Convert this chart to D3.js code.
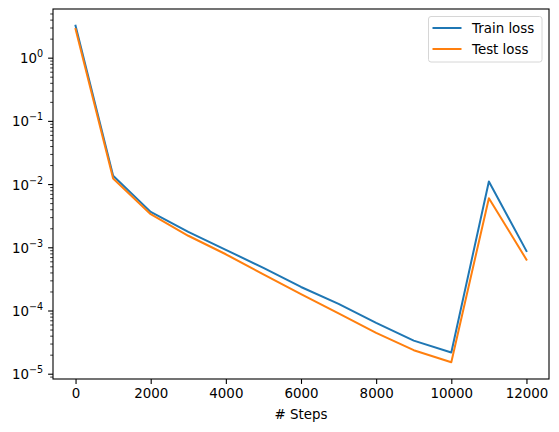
<!DOCTYPE html>
<html>
<head>
<meta charset="utf-8">
<script src="https://cdn.jsdelivr.net/npm/d3@7"></script>
<style>
  body { margin: 0; background: #fff; }
  svg { font-family: "DejaVu Sans", sans-serif; }
</style>
</head>
<body>
<div id="root"></div>
<script>
// loss values, one per 1000 steps
var steps = [0, 1000, 2000, 3000, 4000, 5000, 6000, 7000, 8000, 9000, 10000, 11000, 12000];
var trainLoss = [3.25, 0.0138, 0.0037, 0.00178, 0.00093, 0.00048, 0.00024, 0.00013, 0.000065, 0.000034, 0.000022, 0.0112, 0.00089];
var testLoss = [2.9, 0.0125, 0.0034, 0.00155, 0.00079, 0.00038, 0.000185, 0.000092, 0.000045, 0.000024, 0.0000155, 0.0061, 0.00065];
var xTicks = [0, 2000, 4000, 6000, 8000, 10000, 12000];
var yExps = [0, -1, -2, -3, -4, -5];
var seriesNames = ['Train loss', 'Test loss'];

var w = 559, h = 432;
// plot box (note: "top" is taken by window.top, so prefixed names)
var pLeft = 53, pRight = 549, pTop = 9, pBottom = 379;
var fs = 13.4;
var colors = ['#1f77b4', '#ff7f0e'];

var svg = d3.select('#root').append('svg')
  .attr('width', w)
  .attr('height', h);

// 5% margins like matplotlib, in log space for y
var allVals = trainLoss.concat(testLoss);
var lmin = Math.log10(d3.min(allVals)), lmax = Math.log10(d3.max(allVals));
var pad = (lmax - lmin) * 0.05;
var xpad = (d3.max(steps) - d3.min(steps)) * 0.05;

var xScale = d3.scaleLinear()
  .domain([d3.min(steps) - xpad, d3.max(steps) + xpad])
  .range([pLeft, pRight]);

var yScale = d3.scaleLog()
  .domain([Math.pow(10, lmin - pad), Math.pow(10, lmax + pad)])
  .range([pBottom, pTop]);

var plot = svg.append('g');

// lines
var line = d3.line()
  .x(function(d) { return xScale(d[0]); })
  .y(function(d) { return yScale(d[1]); });

[trainLoss, testLoss].forEach(function(series, k) {
  plot.append('path')
    .datum(steps.map(function(s, i) { return [s, series[i]]; }))
    .attr('fill', 'none')
    .attr('stroke', colors[k])
    .attr('stroke-width', 2)
    .attr('stroke-linejoin', 'round')
    .attr('stroke-linecap', 'square')
    .attr('d', line);
});

// x axis
var xAxis = d3.axisBottom(xScale)
  .tickValues(xTicks)
  .tickSize(4.9)
  .tickPadding(4.9)
  .tickFormat(d3.format('d'));

var gx = svg.append('g')
  .attr('transform', 'translate(0,' + pBottom + ')')
  .call(xAxis);
gx.select('.domain').remove();
gx.selectAll('line').attr('stroke', '#000').attr('stroke-width', 1.1);
gx.selectAll('text').attr('font-size', fs).attr('fill', '#000')
  .attr('font-family', '"DejaVu Sans", sans-serif');

// y axis minor ticks
var dom = yScale.domain();
var minors = [];
for (var e = Math.floor(Math.log10(dom[0])); e <= Math.ceil(Math.log10(dom[1])); e++) {
  for (var m = 2; m <= 9; m++) {
    var v = m * Math.pow(10, e);
    if (v >= dom[0] && v <= dom[1]) minors.push(v);
  }
}
svg.selectAll('line.minor')
  .data(minors).enter().append('line')
  .attr('class', 'minor')
  .attr('x1', pLeft - 2.8).attr('x2', pLeft)
  .attr('y1', function(d) { return yScale(d); })
  .attr('y2', function(d) { return yScale(d); })
  .attr('stroke', '#000').attr('stroke-width', 0.8);

// y axis major ticks + labels
var yt = svg.selectAll('g.ytick')
  .data(yExps).enter().append('g')
  .attr('class', 'ytick')
  .attr('transform', function(d) { return 'translate(0,' + yScale(Math.pow(10, d)) + ')'; });

yt.append('line')
  .attr('x1', pLeft - 4.9).attr('x2', pLeft)
  .attr('stroke', '#000').attr('stroke-width', 1.1);

var lbl = yt.append('text')
  .attr('x', pLeft - 9.8)
  .attr('y', 5)
  .attr('text-anchor', 'end')
  .attr('font-size', fs)
  .attr('fill', '#000');
lbl.append('tspan').text('10');
lbl.append('tspan')
  .attr('dy', -6)
  .attr('font-size', 9.6)
  .text(function(d) { return d < 0 ? '\u2212' + (-d) : String(d); });

// frame
svg.append('rect')
  .attr('x', pLeft).attr('y', pTop)
  .attr('width', pRight - pLeft).attr('height', pBottom - pTop)
  .attr('fill', 'none')
  .attr('stroke', '#000')
  .attr('stroke-width', 1.1);

// x label
svg.append('text')
  .attr('x', (pLeft + pRight) / 2)
  .attr('y', 419)
  .attr('text-anchor', 'middle')
  .attr('font-size', fs)
  .attr('fill', '#000')
  .text('# Steps');

// legend
var legend = svg.append('g')
  .attr('transform', 'translate(428.5,16.5)');

legend.append('rect')
  .attr('width', 113.5)
  .attr('height', 45.5)
  .attr('rx', 2.5).attr('ry', 2.5)
  .attr('fill', '#fff')
  .attr('fill-opacity', 0.8)
  .attr('stroke', '#d6d6d6')
  .attr('stroke-width', 1);

var items = legend.selectAll('g.item')
  .data(seriesNames).enter().append('g')
  .attr('class', 'item')
  .attr('transform', function(d, i) { return 'translate(0,' + (11.5 + i * 21) + ')'; });

items.append('line')
  .attr('x1', 4).attr('x2', 33)
  .attr('stroke', function(d, i) { return colors[i]; })
  .attr('stroke-width', 2);

items.append('text')
  .attr('x', 43.5)
  .attr('y', 5)
  .attr('font-size', fs)
  .attr('fill', '#000')
  .text(function(d) { return d; });
</script>
</body>
</html>
